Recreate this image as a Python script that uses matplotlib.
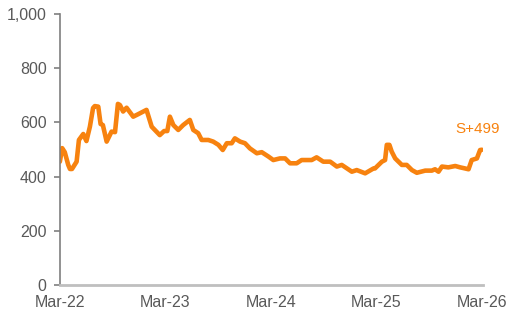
import matplotlib
matplotlib.use('Agg')
import matplotlib.pyplot as plt
import numpy as np

plt.rcParams['font.family'] = ['Liberation Sans', 'DejaVu Sans']

dates = ['2022-03-01', '2022-03-09', '2022-03-18', '2022-03-30', '2022-04-05', '2022-04-12',
         '2022-04-28', '2022-05-06', '2022-05-21', '2022-06-01', '2022-06-13', '2022-06-24',
         '2022-06-30', '2022-07-12', '2022-07-20', '2022-07-28', '2022-08-10', '2022-08-27',
         '2022-09-08', '2022-09-18', '2022-09-25', '2022-10-06', '2022-10-18', '2022-11-10',
         '2022-11-27', '2022-12-26', '2023-01-13', '2023-02-10', '2023-02-25', '2023-03-08',
         '2023-03-17', '2023-03-29', '2023-04-15', '2023-05-02', '2023-05-25', '2023-06-06',
         '2023-06-23', '2023-07-05', '2023-07-28', '2023-08-14', '2023-09-01', '2023-09-16',
         '2023-09-30', '2023-10-17', '2023-10-28', '2023-11-15', '2023-12-02', '2023-12-19',
         '2024-01-12', '2024-01-29', '2024-02-21', '2024-03-09', '2024-04-01', '2024-04-19',
         '2024-05-06', '2024-05-29', '2024-06-15', '2024-07-20', '2024-08-06', '2024-08-29',
         '2024-09-22', '2024-10-15', '2024-11-01', '2024-12-06', '2024-12-23', '2025-01-21',
         '2025-02-19', '2025-02-24', '2025-03-20', '2025-03-31', '2025-04-06', '2025-04-15',
         '2025-04-23', '2025-05-05', '2025-05-28', '2025-06-14', '2025-07-02', '2025-07-19',
         '2025-08-17', '2025-09-09', '2025-09-20', '2025-10-02', '2025-10-14', '2025-11-05',
         '2025-11-29', '2025-12-16', '2026-01-02', '2026-01-14', '2026-01-25', '2026-02-12',
         '2026-02-23', '2026-03-01']
spread = [455, 505, 490, 443, 428, 428,
          455, 535, 557, 531, 584, 653,
          660, 658, 594, 590, 529, 566,
          564, 668, 664, 640, 654, 621,
          630, 646, 584, 553, 568, 568,
          621, 590, 572, 590, 609, 572,
          560, 535, 535, 529, 517, 498,
          523, 523, 541, 529, 523, 504,
          486, 490, 474, 461, 467, 467,
          449, 449, 461, 461, 471, 455,
          455, 437, 443, 418, 424, 412,
          430, 430, 455, 461, 517, 517,
          492, 467, 443, 443, 424, 414,
          422, 422, 427, 418, 437, 434,
          439, 434, 430, 427, 461, 467,
          498, 499]
tick_dates = ['2022-03-01', '2023-03-01', '2024-03-01', '2025-03-01', '2026-03-01']
tick_labels = ['Mar-22', 'Mar-23', 'Mar-24', 'Mar-25', 'Mar-26']
y_ticks = [0, 200, 400, 600, 800, 1000]
end_label = 'S+499'

x = np.array(dates, dtype='datetime64[D]')
xt = np.array(tick_dates, dtype='datetime64[D]')

line_color = '#F7820F'
text_gray = '#595959'

fig = plt.figure(figsize=(5.16, 3.16), dpi=100)
ax = fig.add_axes([0.116, 0.098, 0.82, 0.858])

ax.plot(x, spread, color=line_color, lw=3.3, solid_joinstyle='round', solid_capstyle='round')
ax.annotate(end_label, xy=(x[-1], spread[-1]), xytext=(-3, 10), textcoords='offset points',
            ha='center', va='bottom', color=line_color, fontsize=11)

ax.set_ylim(0, 1000)
ax.set_yticks(y_ticks)
ax.set_yticklabels([f'{v:,}' for v in y_ticks])
ax.set_xlim(xt[0], xt[-1] + np.timedelta64(4, 'D'))
ax.set_xticks(xt)
ax.set_xticklabels(tick_labels)

for s in ['top', 'right']:
    ax.spines[s].set_visible(False)
ax.spines['left'].set_color('#7F7F7F')
ax.spines['left'].set_linewidth(1.2)
ax.spines['bottom'].set_color('#BFBFBF')
ax.spines['bottom'].set_linewidth(2)
ax.tick_params(axis='y', colors='#7F7F7F', labelcolor=text_gray, labelsize=11.5, length=4.5, width=1.2, pad=5)
ax.tick_params(axis='x', length=0, labelcolor=text_gray, labelsize=11.5, pad=7)

fig.savefig('out.png', dpi=100)
plt.close(fig)
